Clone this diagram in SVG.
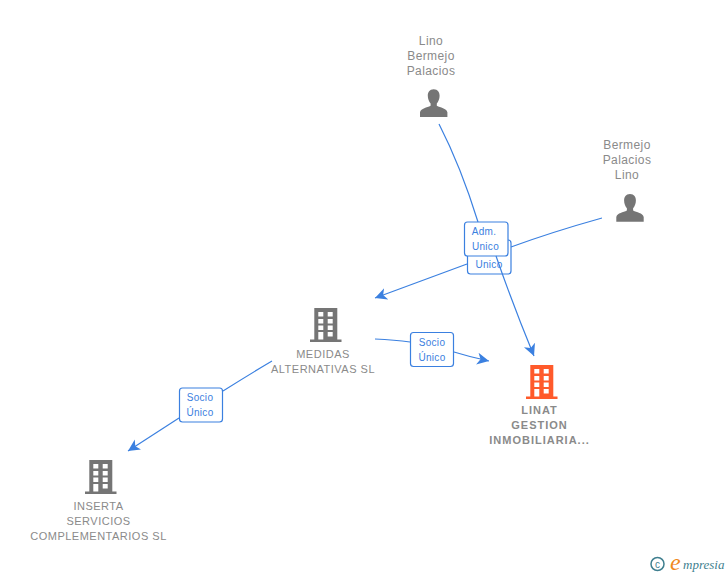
<svg xmlns="http://www.w3.org/2000/svg" width="728" height="575" viewBox="0 0 728 575">
<style>
text{font-family:"Liberation Sans",Arial,sans-serif}
.n{font-size:11px;fill:#8a8a8a;text-anchor:middle;letter-spacing:.5px}
.p{font-size:12px;letter-spacing:.4px}
.b{font-weight:bold;letter-spacing:1px}
.l{font-size:10px;fill:#3b80e0;text-anchor:middle;letter-spacing:.3px}
.c{fill:none;stroke:#3b80e0;stroke-width:1.2}
.box{fill:#fff;stroke:#3b80e0;stroke-width:1.2}
.w{fill:#fff}
.s{font-family:"Liberation Serif",serif;font-style:italic}
</style>
<defs>
<marker id="a" viewBox="0 0 12 12" refX="11" refY="6" markerWidth="13" markerHeight="13" markerUnits="userSpaceOnUse" orient="auto"><path d="M0 .5L11 6L0 11.5L3 6Z" fill="#3b80e0"/></marker>
<g id="bld"><path d="M4.3 0H27.3V31.5H31.5V34H0V31.5H4.3Z"/><path class="w" d="M8.3 4h5v4.5h-5zM17.7 4h5v4.5h-5zM8.3 11h5v4.5h-5zM17.7 11h5v4.5h-5zM8.3 17.5h5v4.5h-5zM17.7 17.5h5v4.5h-5zM8.3 24h5v7.5h-5zM17.7 24h5v4.5h-5z"/></g>
<path id="per" d="M13.7 0C9.5 0 7.8 3.2 7.8 6.5C7.8 9.5 9 12.5 10.6 14.2V16.5C7 18.5 1 18.8 0 23V27.8H27.4V23C26.4 18.8 20.4 18.5 16.8 16.5V14.2C18.4 12.5 19.6 9.5 19.6 6.5C19.6 3.2 17.9 0 13.7 0Z"/>
</defs>
<g id="connectors">
<path class="c" d="M439 124Q461 167 478 222"/>
<path class="c" d="M602 218Q552 232 511 247"/>
<path class="c" d="M467 264L375 298" marker-end="url(#a)"/>
<path class="c" d="M375 339Q395 340 410 342"/>
<path class="c" d="M454 352Q470 357 489 361" marker-end="url(#a)"/>
<path class="c" d="M272 361Q250 374 223 391"/>
<path class="c" d="M179 418L128 451" marker-end="url(#a)"/>
</g>
<g id="label-socio-2"><rect class="box" x="467.5" y="240" width="43.5" height="34" rx="3"/><text class="l" x="489" y="268">Unico</text></g>
<g id="label-adm"><rect class="box" x="464.5" y="222" width="43.5" height="34" rx="3"/><text class="l" x="484" y="235">Adm.</text><text class="l" x="485.5" y="250">Unico</text></g>
<path class="c" d="M496 256Q513 305 534 356" marker-end="url(#a)"/>
<g id="label-socio-3"><rect class="box" x="410.5" y="332.5" width="43" height="34" rx="3"/><text class="l" x="432" y="346">Socio</text><text class="l" x="432" y="361">Único</text></g>
<g id="label-socio-4"><rect class="box" x="179.5" y="388" width="43" height="34" rx="3"/><text class="l" x="200" y="401">Socio</text><text class="l" x="200" y="416">Único</text></g>
<g id="node-lino" fill="#757575"><text class="n p" x="431" y="45">Lino</text><text class="n p" x="431" y="60">Bermejo</text><text class="n p" x="431" y="75">Palacios</text><use href="#per" x="420" y="89.3"/></g>
<g id="node-bermejo" fill="#757575"><text class="n p" x="627" y="149">Bermejo</text><text class="n p" x="627" y="164">Palacios</text><text class="n p" x="627" y="179">Lino</text><use href="#per" x="616.3" y="194"/></g>
<g id="node-medidas" fill="#757575"><use href="#bld" x="310" y="308"/><text class="n" x="323" y="358">MEDIDAS</text><text class="n" x="323" y="373">ALTERNATIVAS SL</text></g>
<g id="node-linat" fill="#ff5a2b"><use href="#bld" x="526" y="365"/><text class="n b" x="539.5" y="414">LINAT</text><text class="n b" x="539.5" y="429">GESTION</text><text class="n b" x="539.5" y="444">INMOBILIARIA...</text></g>
<g id="node-inserta" fill="#757575"><use href="#bld" x="85" y="460"/><text class="n" x="98.5" y="510">INSERTA</text><text class="n" x="98.5" y="525">SERVICIOS</text><text class="n" x="98.5" y="540">COMPLEMENTARIOS SL</text></g>
<g id="logo"><circle cx="657.5" cy="564" r="6.5" fill="none" stroke="#3f7f8f" stroke-width="1.5"/><text x="657.5" y="567.5" font-size="10" fill="#3f7f8f" text-anchor="middle">c</text><text class="s" x="670" y="570" font-size="24" fill="#f08a1d">e</text><text class="s" x="683" y="569" font-size="13" fill="#3f7f8f">mpresia</text></g>
</svg>
